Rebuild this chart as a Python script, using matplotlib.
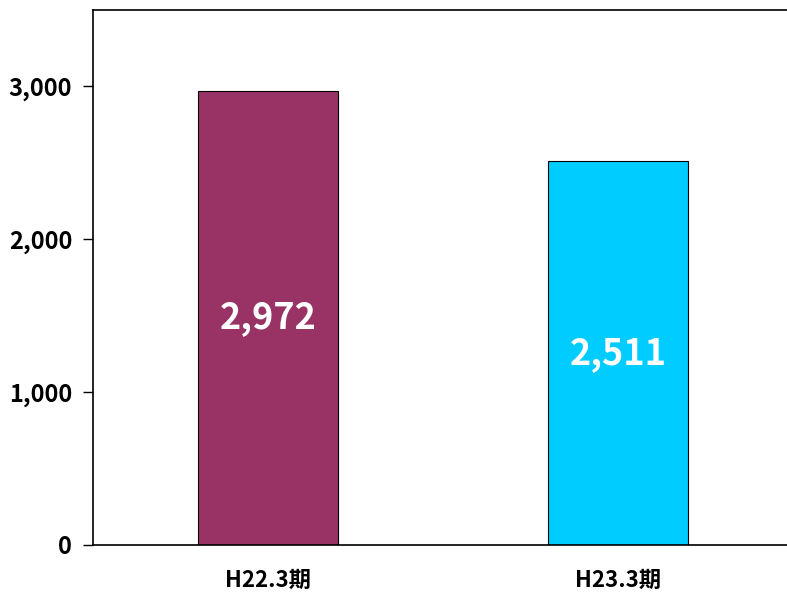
import numpy as np
import matplotlib
matplotlib.use("Agg")
import matplotlib.pyplot as plt

plt.rcParams['font.family'] = ['Noto Sans CJK JP', 'DejaVu Sans']

# data
categories = ['H22.3期', 'H23.3期']
values = [2972, 2511]
colors = ['#993366', '#00CCFF']
yticks = [0, 1000, 2000, 3000]

fig = plt.figure(figsize=(7.87, 5.97), dpi=100)
ax = fig.add_axes([93 / 787, 52 / 597, 700 / 787, 535 / 597])

x = np.arange(len(categories))
bars = ax.bar(x, values, width=0.4, color=colors, edgecolor='black', linewidth=0.8)

for b, v in zip(bars, values):
    ax.text(b.get_x() + b.get_width() / 2, v / 2, f'{v:,}', ha='center', va='center',
            color='white', fontsize=26, fontweight='bold')

ax.set_xlim(-0.5, 1.5)
ax.set_ylim(0, 3500)
ax.set_yticks(yticks)
ax.set_yticklabels([f'{t:,}' for t in yticks], fontsize=17, fontweight='bold')
ax.set_xticks(x)
ax.set_xticklabels(categories, fontsize=16, fontweight='bold')
ax.tick_params(axis='x', length=0, pad=17)
ax.tick_params(axis='y', length=7, width=1, pad=8)
ax.spines['right'].set_visible(False)
for s in ['left', 'top', 'bottom']:
    ax.spines[s].set_linewidth(1.2)

fig.savefig('out.png', dpi=100)
